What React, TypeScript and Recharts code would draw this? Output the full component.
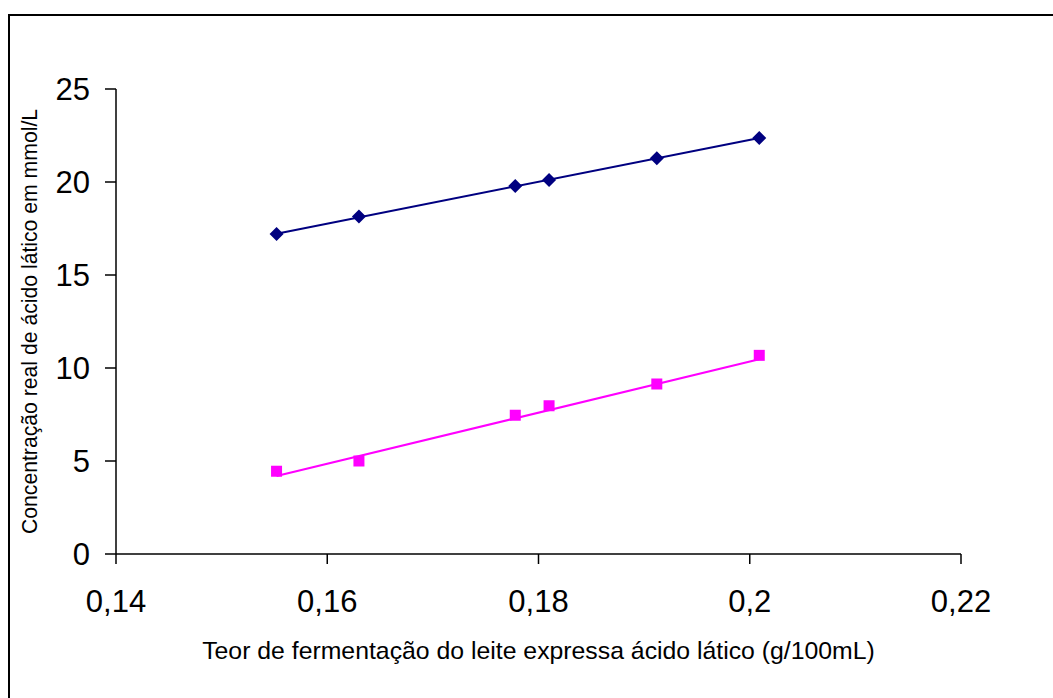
import React from 'react';
import { ScatterChart, Scatter, XAxis, YAxis } from 'recharts';

// teor de fermentação (g/100mL)
const fermentacao = [0.1552, 0.163, 0.1778, 0.181, 0.1912, 0.2009];
// concentração real (mmol/L)
const serieAzul = [17.2, 18.15, 19.78, 20.11, 21.28, 22.36];
const serieRosa = [4.45, 5.0, 7.46, 7.97, 9.14, 10.68];
// linhas de tendência (pontos inicial e final)
const tendenciaX = [0.1552, 0.2009];
const tendenciaAzul = [17.22, 22.37];
const tendenciaRosa = [4.19, 10.47];

const xTicks = [0.14, 0.16, 0.18, 0.2, 0.22];
const yTicks = [0, 5, 10, 15, 20, 25];

const toPoints = (xs: number[], ys: number[]) => xs.map((x, i) => ({ x, y: ys[i] }));

const azul = toPoints(fermentacao, serieAzul);
const rosa = toPoints(fermentacao, serieRosa);
const linhaAzul = toPoints(tendenciaX, tendenciaAzul);
const linhaRosa = toPoints(tendenciaX, tendenciaRosa);

const FONT = '"Liberation Sans", Arial, sans-serif';

const Diamond = (props: any) => {
  const { cx, cy } = props;
  const r = 7;
  return <path d={`M${cx},${cy - r}L${cx + r},${cy}L${cx},${cy + r}L${cx - r},${cy}Z`} fill="#000080" />;
};

const Square = (props: any) => {
  const { cx, cy } = props;
  return <rect x={cx - 5.5} y={cy - 5.5} width={11} height={11} fill="#FF00FF" />;
};

const Empty = () => <g />;

const YTitle = (props: any) => {
  const { viewBox } = props;
  const x = viewBox.x + 27;
  const y = viewBox.y + viewBox.height / 2;
  return (
    <text x={x} y={y} transform={`rotate(-90 ${x} ${y})`} textAnchor="middle" fontSize={21.2} fontFamily={FONT} fill="#000">
      Concentração real de ácido lático em mmol/L
    </text>
  );
};

const App: React.FC = () => {
  return (
    <div
      style={{
        position: 'fixed',
        top: 14,
        left: 8,
        width: 1045,
        height: 684,
        borderTop: '2px solid #000',
        borderLeft: '2px solid #000',
        boxSizing: 'border-box',
        overflow: 'hidden',
        background: '#fff',
        fontFamily: FONT,
      }}
    >
      <ScatterChart width={1043} height={672} margin={{ top: 73, right: 92, left: 0, bottom: 0 }}>
        <XAxis
          type="number"
          dataKey="x"
          domain={[0.14, 0.22]}
          ticks={xTicks}
          tickFormatter={(v: number) => String(v).replace('.', ',')}
          height={134}
          tickSize={10}
          tickMargin={26}
          axisLine={{ stroke: '#000', strokeWidth: 1.5 }}
          tickLine={{ stroke: '#000', strokeWidth: 1.5 }}
          tick={{ fontSize: 31, fill: '#000', fontFamily: FONT }}
          allowDataOverflow
          label={{
            value: 'Teor de fermentação do leite expressa ácido lático (g/100mL)',
            position: 'insideBottom',
            offset: 29,
            fontSize: 24.8,
            fill: '#000',
            fontFamily: FONT,
          }}
        />
        <YAxis
          type="number"
          dataKey="y"
          domain={[0, 25]}
          ticks={yTicks}
          width={106}
          tickSize={11}
          tickMargin={15}
          axisLine={{ stroke: '#000', strokeWidth: 1.5 }}
          tickLine={{ stroke: '#000', strokeWidth: 1.5 }}
          tick={{ fontSize: 31, fill: '#000', fontFamily: FONT }}
          allowDataOverflow
          label={<YTitle />}
        />
        <Scatter data={linhaAzul} line={{ stroke: '#000080', strokeWidth: 2 }} shape={Empty} isAnimationActive={false} />
        <Scatter data={linhaRosa} line={{ stroke: '#FF00FF', strokeWidth: 2 }} shape={Empty} isAnimationActive={false} />
        <Scatter data={azul} shape={Diamond} isAnimationActive={false} />
        <Scatter data={rosa} shape={Square} isAnimationActive={false} />
      </ScatterChart>
    </div>
  );
};

export default App;
